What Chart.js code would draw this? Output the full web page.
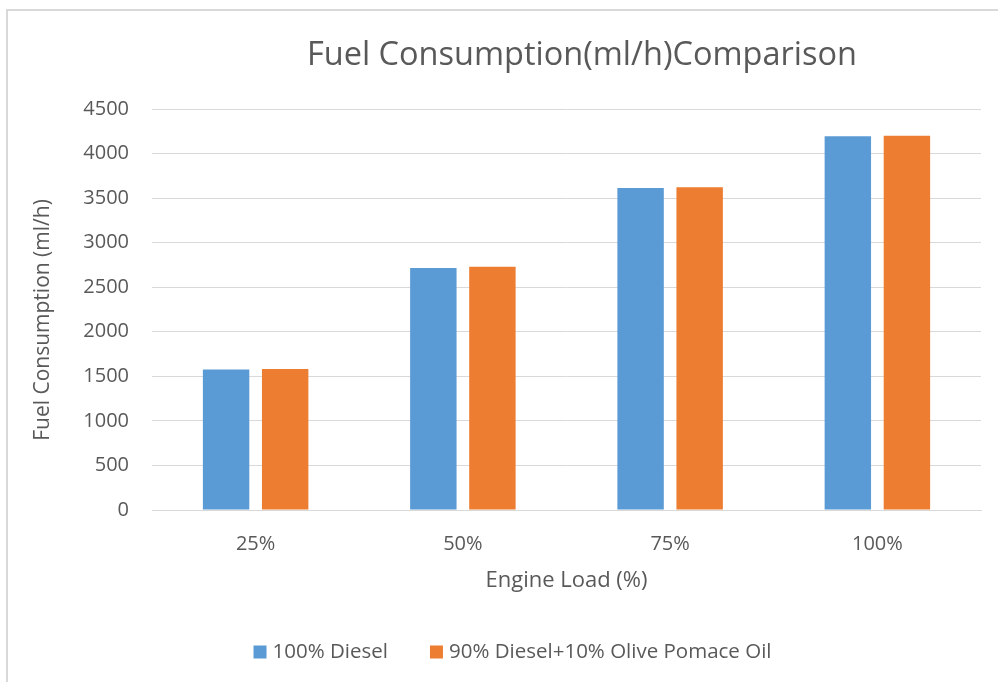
<!DOCTYPE html>
<html>
<head>
<meta charset="utf-8">
<script src="https://cdn.jsdelivr.net/npm/chart.js@4/dist/chart.umd.min.js"></script>
<style>
  html, body { margin: 0; padding: 0; background: #ffffff; }
  #frame {
    position: absolute; left: 6px; top: 9px; width: 1100px; height: 800px;
    border-left: 2px solid #d9d9d9; border-top: 2px solid #d9d9d9;
  }
  #wrap { position: absolute; left: 0; top: 0; width: 998px; height: 682px; }
</style>
</head>
<body>
<div id="frame"></div>
<div id="wrap"><canvas id="chart" width="998" height="682"></canvas></div>
<script>
// Chart data
const loads = ['25%', '50%', '75%', '100%'];
const dieselValues = [1578, 2716, 3614, 4194];
const blendValues = [1582, 2731, 3622, 4201];
const seriesNames = ['100% Diesel', '90% Diesel+10% Olive Pomace Oil'];
const seriesColors = ['#5B9BD5', '#ED7D31'];
const yTickValues = [0, 500, 1000, 1500, 2000, 2500, 3000, 3500, 4000, 4500];

const chartTitle = 'Fuel Consumption(ml/h)Comparison';
const xTitle = 'Engine Load (%)';
const yTitle = 'Fuel Consumption (ml/h)';

const FONT = '"Open Sans", Lato, sans-serif';
const TEXT = '#595959';

// Chart title and the rotated value-axis title
const titlePlugin = {
  id: 'topTitle',
  afterDraw(chart) {
    const ctx = chart.ctx;
    ctx.save();
    ctx.font = '32.5px ' + FONT;
    ctx.fillStyle = TEXT;
    ctx.textAlign = 'center';
    ctx.textBaseline = 'alphabetic';
    ctx.fillText(chartTitle, 582, 65);
    ctx.restore();

    ctx.save();
    ctx.font = '21px ' + FONT;
    ctx.fillStyle = TEXT;
    ctx.textAlign = 'center';
    ctx.textBaseline = 'middle';
    ctx.translate(43, 320);
    ctx.rotate(-Math.PI / 2);
    ctx.fillText(yTitle, 0, 0);
    ctx.restore();
  }
};

// Legend drawn as a single centred row below the axis title
const legendPlugin = {
  id: 'bottomLegend',
  afterDraw(chart) {
    const ctx = chart.ctx;
    ctx.save();
    ctx.font = '20.5px ' + FONT;
    ctx.textBaseline = 'middle';
    ctx.textAlign = 'left';
    const box = 13, gapBox = 6, gapItem = 42;
    const items = chart.data.datasets.map(ds => ({
      label: ds.label, color: ds.backgroundColor, w: ctx.measureText(ds.label).width
    }));
    let total = 0;
    items.forEach((it, i) => { total += box + gapBox + it.w + (i ? gapItem : 0); });
    let x = 512.5 - total / 2;
    const y = 652;
    items.forEach((it, i) => {
      if (i) x += gapItem;
      ctx.fillStyle = it.color;
      ctx.fillRect(x, y - box / 2, box, box);
      x += box + gapBox;
      ctx.fillStyle = TEXT;
      ctx.fillText(it.label, x, y);
      x += it.w;
    });
    ctx.restore();
  }
};

new Chart(document.getElementById('chart'), {
  type: 'bar',
  data: {
    labels: loads,
    datasets: [
      { label: seriesNames[0], data: dieselValues, backgroundColor: seriesColors[0] },
      { label: seriesNames[1], data: blendValues, backgroundColor: seriesColors[1] }
    ]
  },
  options: {
    responsive: false,
    animation: false,
    devicePixelRatio: 1,
    categoryPercentage: 0.57,
    barPercentage: 0.786,
    layout: { padding: { top: 109, right: 17, bottom: 88, left: 0 } },
    plugins: {
      legend: { display: false },
      title: { display: false },
      tooltip: { enabled: false }
    },
    scales: {
      x: {
        grid: { display: false, drawTicks: false },
        border: { display: true, color: '#d9d9d9', width: 1 },
        ticks: { color: TEXT, font: { family: FONT, size: 20 }, padding: 22 },
        title: { display: true, text: xTitle, color: TEXT, font: { family: FONT, size: 22 }, padding: { top: 10, bottom: 0 } },
        afterFit(scale) { scale.height = 84; }
      },
      y: {
        min: 0,
        max: 4500,
        afterBuildTicks(scale) { scale.ticks = yTickValues.map(v => ({ value: v })); },
        grid: { color: '#d9d9d9', lineWidth: 1, drawTicks: false },
        border: { display: false },
        ticks: {
          color: TEXT, font: { family: FONT, size: 20 }, padding: 23,
          callback: (v) => String(v)
        },
        title: { display: false },
        afterFit(scale) { scale.width = 152; }
      }
    }
  },
  plugins: [titlePlugin, legendPlugin]
});
</script>
</body>
</html>
